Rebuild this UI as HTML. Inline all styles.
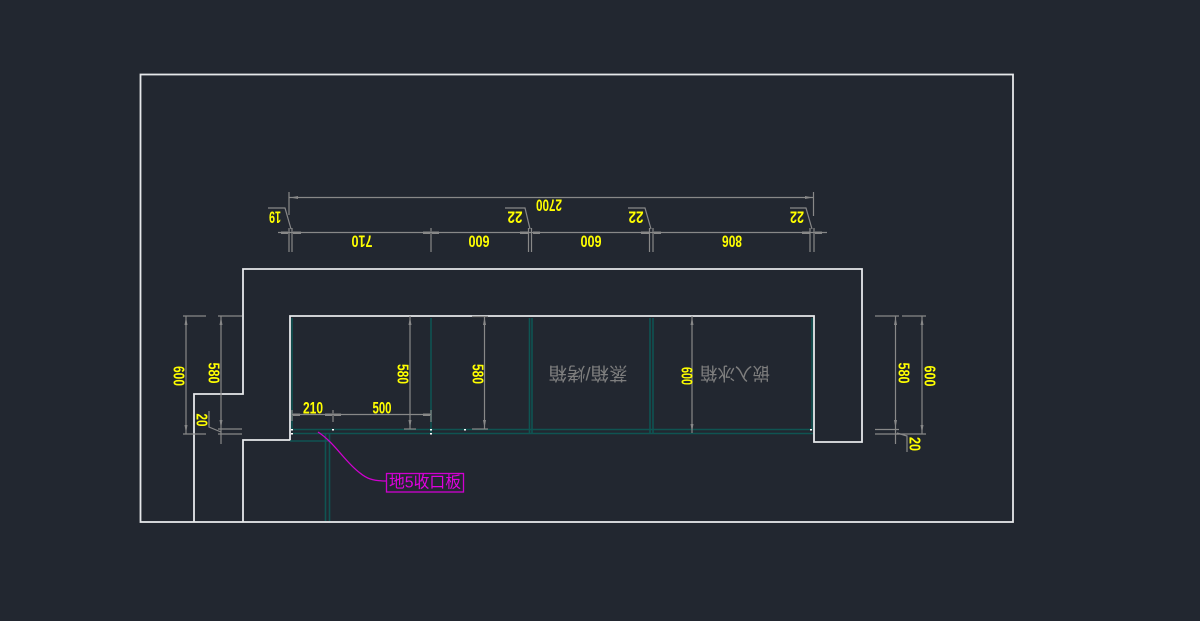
<!DOCTYPE html>
<html>
<head>
<meta charset="utf-8">
<style>
html,body{margin:0;padding:0;background:#222730;}
svg{display:block;}
.w{stroke:#e6e8ea;stroke-width:1.8;fill:none;}
.t{stroke:#0f5452;stroke-width:1.6;fill:none;}
.g{stroke:#888888;stroke-width:1.2;fill:none;}
.y{fill:#ffff00;font-family:"Liberation Sans",sans-serif;font-size:17px;font-weight:bold;}
.yv{fill:#ffff00;font-family:"Liberation Sans",sans-serif;font-size:16px;font-weight:bold;}
.c{fill:#7e7e7e;font-family:"Liberation Sans","Noto Sans CJK SC",sans-serif;font-size:18px;}
.m{fill:#e000e0;font-family:"Liberation Sans","Noto Sans CJK SC",sans-serif;font-size:16px;}
</style>
</head>
<body>
<svg width="1200" height="621" viewBox="0 0 1200 621" xmlns="http://www.w3.org/2000/svg">
<rect x="0" y="0" width="1200" height="621" fill="#222730"/>

<!-- outer frame -->
<rect class="w" x="140.5" y="74.5" width="872.5" height="447.5"/>

<!-- wall outline -->
<polyline class="w" points="194,522 194,394 243,394 243,269 862,269 862,442 814,442 814,316 290,316 290,440 243,440 243,522"/>

<!-- teal cabinet lines -->
<g class="t">
  <line x1="292" y1="318" x2="292" y2="430"/>
  <line x1="292" y1="429.5" x2="813" y2="429.5"/>
  <line x1="292" y1="433.5" x2="813" y2="433.5"/>
  <line x1="431" y1="318" x2="431" y2="434"/>
  <line x1="529.5" y1="318" x2="529.5" y2="434"/>
  <line x1="532" y1="318" x2="532" y2="434"/>
  <line x1="650" y1="318" x2="650" y2="434"/>
  <line x1="653" y1="318" x2="653" y2="434"/>
  <line x1="812" y1="318" x2="812" y2="430"/>
  <line x1="290" y1="441" x2="330" y2="441"/>
  <line x1="325.5" y1="434" x2="325.5" y2="521"/>
  <line x1="329.5" y1="434" x2="329.5" y2="521"/>
</g>

<!-- white small dots on cabinet line -->
<g fill="#ffffff">
  <rect x="291" y="429" width="2" height="1.5"/>
  <rect x="291" y="433" width="2" height="1.5"/>
  <rect x="332" y="429" width="2" height="1.5"/>
  <rect x="430" y="429" width="2" height="1.5"/>
  <rect x="430" y="433" width="2" height="1.5"/>
  <rect x="464" y="429" width="2" height="1.5"/>
  <rect x="810" y="429" width="2" height="1.5"/>
</g>

<!-- top dimensions -->
<g class="g">
  <line x1="289" y1="197.5" x2="814" y2="197.5"/>
  <line x1="289" y1="192" x2="289" y2="215"/>
  <line x1="813.5" y1="192" x2="813.5" y2="216"/>
  <line x1="278" y1="232.5" x2="827" y2="232.5"/>
  <line x1="289" y1="228" x2="289" y2="252"/>
  <line x1="292" y1="228" x2="292" y2="252"/>
  <line x1="431" y1="228" x2="431" y2="252"/>
  <line x1="528.5" y1="228" x2="528.5" y2="252"/>
  <line x1="531.5" y1="228" x2="531.5" y2="252"/>
  <line x1="649.5" y1="228" x2="649.5" y2="252"/>
  <line x1="653" y1="228" x2="653" y2="252"/>
  <line x1="810" y1="228" x2="810" y2="252"/>
  <line x1="814" y1="228" x2="814" y2="252"/>
  <!-- leaders -->
  <polyline points="268,208 285,208 291,229"/>
  <polyline points="505,208 525,208 530,229"/>
  <polyline points="628,208 645,208 651,229"/>
  <polyline points="790,208 806,208 812,229"/>
</g>
<g fill="#888888">
  <polygon points="290,197.5 298,196 298,199"/>
  <polygon points="813,197.5 805,196 805,199"/>
  <rect x="293" y="231.5" width="8" height="2.5"/>
  <rect x="281" y="231.5" width="7" height="2.5"/>
  <rect x="423" y="231.5" width="7" height="2.5"/>
  <rect x="432" y="231.5" width="7" height="2.5"/>
  <rect x="520" y="231.5" width="8" height="2.5"/>
  <rect x="533" y="231.5" width="7" height="2.5"/>
  <rect x="641" y="231.5" width="8" height="2.5"/>
  <rect x="654" y="231.5" width="7" height="2.5"/>
  <rect x="802" y="231.5" width="8" height="2.5"/>
  <rect x="815" y="231.5" width="7" height="2.5"/>
</g>

<!-- left dimensions -->
<g class="g">
  <line x1="186" y1="316" x2="186" y2="434"/>
  <line x1="183" y1="316" x2="206" y2="316"/>
  <line x1="183" y1="434" x2="206" y2="434"/>
  <line x1="221" y1="316" x2="221" y2="444"/>
  <line x1="218" y1="316" x2="242" y2="316"/>
  <line x1="218" y1="429" x2="242" y2="429"/>
  <line x1="218" y1="434" x2="242" y2="434"/>
  <polyline points="209,411 209,427 221,432"/>
</g>
<g fill="#888888">
  <polygon points="186,317 184.5,325 187.5,325"/>
  <polygon points="186,433 184.5,425 187.5,425"/>
  <polygon points="221,317 219.5,325 222.5,325"/>
  <polygon points="221,428 219.5,420 222.5,420"/>
</g>

<!-- right dimensions -->
<g class="g">
  <line x1="895.5" y1="316" x2="895.5" y2="444"/>
  <line x1="875" y1="316" x2="899" y2="316"/>
  <line x1="875" y1="429.5" x2="899" y2="429.5"/>
  <line x1="875" y1="434" x2="899" y2="434"/>
  <line x1="922" y1="316" x2="922" y2="434"/>
  <line x1="902" y1="316" x2="926" y2="316"/>
  <line x1="895" y1="434" x2="926" y2="434"/>
  <polyline points="897,433 907,436 907,452"/>
</g>
<g fill="#888888">
  <polygon points="895.5,317 894,325 897,325"/>
  <polygon points="895.5,428 894,420 897,420"/>
  <polygon points="922,317 920.5,325 923.5,325"/>
  <polygon points="922,433 920.5,425 923.5,425"/>
</g>

<!-- middle dimensions -->
<g class="g">
  <line x1="410" y1="316" x2="410" y2="429"/>
  <line x1="404" y1="429" x2="416" y2="429"/>
  <line x1="484.5" y1="316" x2="484.5" y2="429"/>
  <line x1="472" y1="316.5" x2="488" y2="316.5"/>
  <line x1="472" y1="429" x2="488" y2="429"/>
  <line x1="692" y1="316" x2="692" y2="433"/>
  <line x1="292" y1="414.5" x2="431" y2="414.5"/>
  <line x1="292" y1="410" x2="292" y2="421"/>
  <line x1="333" y1="410" x2="333" y2="422"/>
  <line x1="431" y1="410" x2="431" y2="422"/>
</g>
<g fill="#888888">
  <polygon points="410,317 408.5,325 411.5,325"/>
  <polygon points="410,428 408.5,420 411.5,420"/>
  <polygon points="484.5,317 483,325 486,325"/>
  <polygon points="484.5,428 483,420 486,420"/>
  <polygon points="692,317 690.5,325 693.5,325"/>
  <polygon points="692,432 690.5,424 693.5,424"/>
  <rect x="293" y="413.5" width="7" height="2.5"/>
  <rect x="325" y="413.5" width="7" height="2.5"/>
  <rect x="334" y="413.5" width="7" height="2.5"/>
  <rect x="423" y="413.5" width="7" height="2.5"/>
</g>

<!-- yellow dimension texts (horizontal) -->
<g class="y" text-anchor="middle" dominant-baseline="central">
  <text x="549" y="205" transform="rotate(180 549 205)" textLength="26" lengthAdjust="spacingAndGlyphs">2700</text>
  <text x="275" y="217" transform="rotate(180 275 217)" textLength="12" lengthAdjust="spacingAndGlyphs">19</text>
  <text x="515" y="217" transform="rotate(180 515 217)" textLength="15" lengthAdjust="spacingAndGlyphs">22</text>
  <text x="636" y="217" transform="rotate(180 636 217)" textLength="15" lengthAdjust="spacingAndGlyphs">22</text>
  <text x="797" y="217" transform="rotate(180 797 217)" textLength="14" lengthAdjust="spacingAndGlyphs">22</text>
  <text x="362" y="241" transform="rotate(180 362 241)" textLength="21" lengthAdjust="spacingAndGlyphs">710</text>
  <text x="479" y="241" transform="rotate(180 479 241)" textLength="21" lengthAdjust="spacingAndGlyphs">600</text>
  <text x="591" y="241" transform="rotate(180 591 241)" textLength="21" lengthAdjust="spacingAndGlyphs">600</text>
  <text x="732" y="241" transform="rotate(180 732 241)" textLength="20" lengthAdjust="spacingAndGlyphs">806</text>
  <text x="313" y="408" textLength="20" lengthAdjust="spacingAndGlyphs">210</text>
  <text x="382" y="408" textLength="19" lengthAdjust="spacingAndGlyphs">500</text>
</g>
<!-- yellow dimension texts (vertical) -->
<g class="yv" text-anchor="middle" dominant-baseline="central">
  <text x="178" y="376" transform="rotate(90 178 376)" textLength="20" lengthAdjust="spacingAndGlyphs">600</text>
  <text x="213" y="373" transform="rotate(90 213 373)" textLength="21" lengthAdjust="spacingAndGlyphs">580</text>
  <text x="201" y="420" transform="rotate(90 201 420)" textLength="13" lengthAdjust="spacingAndGlyphs">20</text>
  <text x="402" y="374" transform="rotate(90 402 374)" textLength="20" lengthAdjust="spacingAndGlyphs">580</text>
  <text x="477" y="374" transform="rotate(90 477 374)" textLength="20" lengthAdjust="spacingAndGlyphs">580</text>
  <text x="686" y="376" transform="rotate(90 686 376)" textLength="18" lengthAdjust="spacingAndGlyphs">600</text>
  <text x="903" y="373" transform="rotate(90 903 373)" textLength="21" lengthAdjust="spacingAndGlyphs">580</text>
  <text x="929" y="376" transform="rotate(90 929 376)" textLength="21" lengthAdjust="spacingAndGlyphs">600</text>
  <text x="914" y="444" transform="rotate(90 914 444)" textLength="14" lengthAdjust="spacingAndGlyphs">20</text>
</g>

<!-- cabinet labels (flipped) -->
<g class="c" text-anchor="middle" dominant-baseline="central">
  <text x="588" y="373" transform="rotate(180 588 373)" textLength="79" lengthAdjust="spacingAndGlyphs">蒸箱/烤箱</text>
  <text x="735" y="373" transform="rotate(180 735 373)" textLength="70" lengthAdjust="spacingAndGlyphs">嵌入冰箱</text>
</g>

<!-- magenta leader & label -->
<path d="M318,432 C335,443 345,462 360,473 C366,478 372,481 386,481" stroke="#d000d0" stroke-width="1.3" fill="none"/>
<rect x="386.5" y="473.5" width="77" height="18.5" fill="none" stroke="#d000d0" stroke-width="1.3"/>
<text class="m" x="425" y="483" text-anchor="middle" dominant-baseline="central" textLength="72" lengthAdjust="spacingAndGlyphs">地5收口板</text>
</svg>
</body>
</html>
